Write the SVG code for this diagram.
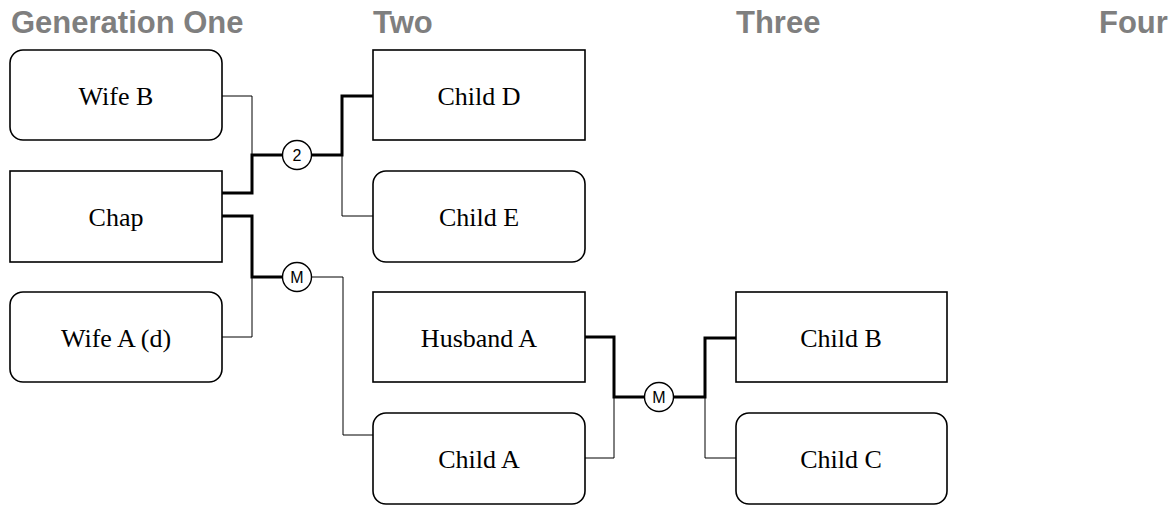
<svg xmlns="http://www.w3.org/2000/svg" width="1174" height="506" viewBox="0 0 1174 506">
<style>
.hdr{font-family:"Liberation Sans",Arial,sans-serif;font-weight:bold;font-size:31px;fill:#7f7f7f}
.box{fill:#fff;stroke:#000;stroke-width:1.6}
.lbl{font-family:"Liberation Serif","Times New Roman",serif;font-size:26px;fill:#000;text-anchor:middle}
.thin{fill:none;stroke:#000;stroke-width:1}
.thick{fill:none;stroke:#000;stroke-width:3}
.knot{fill:#fff;stroke:#000;stroke-width:1.4}
.kt{font-family:"Liberation Sans",Arial,sans-serif;font-size:16px;fill:#000;text-anchor:middle}
</style>
<rect width="1174" height="506" fill="#fff"/>
<text class="hdr" x="11" y="33">Generation One</text>
<text class="hdr" x="373" y="33">Two</text>
<text class="hdr" x="736" y="33">Three</text>
<text class="hdr" x="1099" y="33">Four</text>
<g id="connectors">
<path class="thin" d="M222,96 H252 V155"/>
<path class="thick" d="M222,193 H252 V155 H282"/>
<path class="thick" d="M312,155 H342 V96 H373"/>
<path class="thin" d="M342,155 V216 H373"/>
<path class="thick" d="M222,216 H252 V277 H282"/>
<path class="thin" d="M222,337 H252 V277"/>
<path class="thin" d="M312,277 H343 V435 H373"/>
<path class="thick" d="M585,337 H614 V397 H644"/>
<path class="thin" d="M585,458 H614 V397"/>
<path class="thick" d="M674,397 H705 V338 H736"/>
<path class="thin" d="M705,397 V458 H736"/>
</g>
<g id="knot1"><circle class="knot" cx="297" cy="155" r="14.5"/><text class="kt" x="297" y="161">2</text></g>
<g id="knot2"><circle class="knot" cx="297" cy="277" r="14.5"/><text class="kt" x="297" y="283">M</text></g>
<g id="knot3"><circle class="knot" cx="659" cy="397" r="14.5"/><text class="kt" x="659" y="403">M</text></g>
<g id="wifeB"><rect class="box" x="10" y="50" width="212" height="90" rx="13"/><text class="lbl" x="116" y="105">Wife B</text></g>
<g id="chap"><rect class="box" x="10" y="171" width="212" height="91"/><text class="lbl" x="116" y="226">Chap</text></g>
<g id="wifeA"><rect class="box" x="10" y="292" width="212" height="90" rx="13"/><text class="lbl" x="116" y="347">Wife A (d)</text></g>
<g id="childD"><rect class="box" x="373" y="50" width="212" height="90"/><text class="lbl" x="479" y="105">Child D</text></g>
<g id="childE"><rect class="box" x="373" y="171" width="212" height="91" rx="13"/><text class="lbl" x="479" y="226">Child E</text></g>
<g id="husbandA"><rect class="box" x="373" y="292" width="212" height="90"/><text class="lbl" x="479" y="347">Husband A</text></g>
<g id="childA"><rect class="box" x="373" y="413" width="212" height="91" rx="13"/><text class="lbl" x="479" y="468">Child A</text></g>
<g id="childB"><rect class="box" x="736" y="292" width="211" height="90"/><text class="lbl" x="841" y="347">Child B</text></g>
<g id="childC"><rect class="box" x="736" y="413" width="211" height="91" rx="13"/><text class="lbl" x="841" y="468">Child C</text></g>
</svg>
